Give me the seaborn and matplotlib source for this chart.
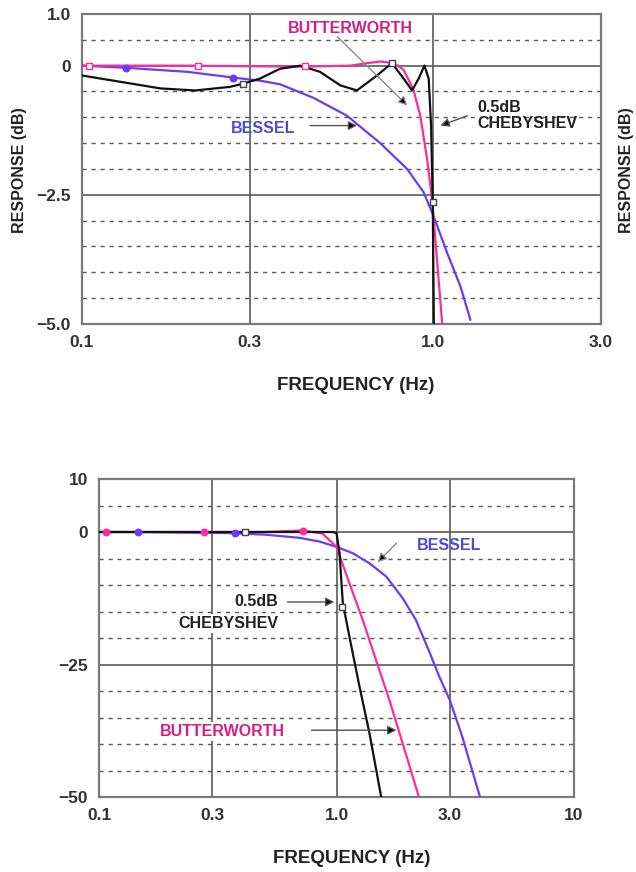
import numpy as np
import pandas as pd
import matplotlib
matplotlib.use("Agg")
import matplotlib.pyplot as plt
import seaborn as sns
from matplotlib.ticker import FixedLocator, FixedFormatter, NullLocator

# ---------------- top panel: passband detail (0.1 .. 3 Hz, +1 .. -5 dB) ----------------
top_bw_f = [0.1, 0.2, 0.418, 0.58, 0.649, 0.706, 0.771, 0.823, 0.877, 0.918, 0.960, 0.992, 1.024, 1.059]
top_bw_db = [0.0, 0.0, -0.02, 0.0, 0.05, 0.08, 0.05, -0.08, -0.46, -0.97, -1.81, -2.59, -3.75, -4.97]

top_ch_f = [0.1, 0.167, 0.21, 0.264, 0.287, 0.321, 0.366, 0.418, 0.476, 0.543, 0.606, 0.691,
            0.762, 0.823, 0.870, 0.908, 0.943, 0.970, 0.985, 0.996, 1.004]
top_ch_db = [-0.19, -0.44, -0.48, -0.41, -0.35, -0.25, -0.06, 0.0, -0.12, -0.38, -0.48, -0.19,
             0.05, -0.25, -0.48, -0.25, 0.0, -0.25, -1.15, -2.63, -5.3]

top_bs_f = [0.1, 0.133, 0.2, 0.269, 0.321, 0.366, 0.455, 0.568, 0.706, 0.842, 0.938, 1.0,
            1.094, 1.194, 1.275]
top_bs_db = [0.0, -0.04, -0.12, -0.23, -0.29, -0.36, -0.62, -0.97, -1.5, -2.0, -2.45, -2.9,
             -3.62, -4.27, -4.92]

# marker points on the top curves
top_bw_mk_f = [0.105, 0.214, 0.432]
top_bw_mk_db = [0.0, 0.0, 0.0]
top_ch_mk_f = [0.287, 0.762, 1.0]
top_ch_mk_db = [-0.35, 0.05, -2.63]
top_bs_mk_f = [0.133, 0.269]
top_bs_mk_db = [-0.04, -0.23]

top_xticks = [0.1, 0.3, 1.0, 3.0]
top_xlabels = ["0.1", "0.3", "1.0", "3.0"]
top_yticks = [1.0, 0.0, -2.5, -5.0]
top_ylabels = ["1.0", "0", "\u22122.5", "\u22125.0"]
top_yminor = [0.5, -0.5, -1.0, -1.5, -2.0, -3.0, -3.5, -4.0, -4.5]

# ---------------- bottom panel: full response (0.1 .. 10 Hz, +10 .. -50 dB) ----------------
bot_bw_f = [0.1, 0.276, 0.5, 0.72, 0.873, 1.0, 1.134, 1.29, 1.468, 1.67, 1.90, 2.24]
bot_bw_db = [0.0, 0.0, 0.0, 0.3, -0.3, -2.8, -9.7, -16.6, -24.2, -31.7, -39.9, -50.5]

bot_ch_f = [0.1, 0.203, 0.41, 0.517, 0.75, 0.962, 1.0, 1.03, 1.063, 1.134, 1.25, 1.377, 1.55]
bot_ch_db = [0.0, 0.0, 0.0, 0.0, 0.0, 0.0, -0.2, -4.0, -13.4, -19.8, -29.2, -38.0, -50.5]

bot_bs_f = [0.1, 0.146, 0.345, 0.5, 0.70, 0.847, 1.0, 1.17, 1.377, 1.62, 1.90, 2.16, 2.46,
            2.71, 3.0, 3.39, 4.05]
bot_bs_db = [0.0, 0.0, -0.2, -0.5, -1.1, -1.8, -2.8, -4.0, -5.9, -8.4, -12.5, -16.6, -22.6,
             -27.3, -31.7, -38.7, -50.5]

bot_bw_mk_f = [0.107, 0.276, 0.72]
bot_bw_mk_db = [0.0, 0.0, 0.2]
bot_ch_mk_f = [0.41, 1.057]
bot_ch_mk_db = [0.0, -14.2]
bot_bs_mk_f = [0.146, 0.373]
bot_bs_mk_db = [0.0, -0.2]

bot_xticks = [0.1, 0.3, 1.0, 3.0, 10.0]
bot_xlabels = ["0.1", "0.3", "1.0", "3.0", "10"]
bot_yticks = [10, 0, -25, -50]
bot_ylabels = ["10", "0", "\u221225", "\u221250"]
bot_yminor = [5, -5, -10, -15, -20, -30, -35, -40, -45]

BW_COL = "#ff2a9e"
BS_COL = "#6a3cf5"
CH_COL = "#111111"
BW_TXT = "#d81e7e"
BS_TXT = "#4b4bd6"
GRID = "#5a5a5a"

sns.set_style("white")
plt.rcParams["font.family"] = ["Liberation Sans", "DejaVu Sans"]

fig = plt.figure(figsize=(6.36, 8.72), dpi=100)
ax1 = fig.add_axes([82 / 636, 1 - 324 / 872, (601 - 82) / 636, (324 - 14) / 872])
ax2 = fig.add_axes([99 / 636, 1 - 797 / 872, (574 - 99) / 636, (797 - 479) / 872])


def style_axes(ax, xlim, ylim, xt, xl, yt, yl, yminor):
    ax.set_xscale("log")
    ax.set_xlim(*xlim)
    ax.set_ylim(*ylim)
    ax.xaxis.set_major_locator(FixedLocator(xt))
    ax.xaxis.set_major_formatter(FixedFormatter(xl))
    ax.xaxis.set_minor_locator(NullLocator())
    ax.yaxis.set_major_locator(FixedLocator(yt))
    ax.yaxis.set_major_formatter(FixedFormatter(yl))
    ax.yaxis.set_minor_locator(FixedLocator(yminor))
    ax.grid(which="major", color=GRID, lw=1.2, ls="-")
    ax.grid(which="minor", axis="y", color=GRID, lw=1.0, ls=(0, (3, 3.5)))
    ax.set_axisbelow(True)
    for s in ax.spines.values():
        s.set_color("#7a7a7a")
        s.set_linewidth(1.6)
    ax.tick_params(which="major", direction="out", length=4, width=1.2, color="#7a7a7a",
                   labelsize=12.5, labelcolor="#333333", pad=4)
    ax.tick_params(which="minor", length=0)
    for lab in ax.get_xticklabels() + ax.get_yticklabels():
        lab.set_fontweight("bold")
    ax.set_xlabel("")
    ax.set_ylabel("")


def draw_curves(ax, curves):
    for f, db, col in curves:
        sns.lineplot(x=f, y=db, ax=ax, color=col, lw=1.6, sort=False, estimator=None, zorder=3)


def draw_markers(ax, pts):
    for f, db, col, mk, face in pts:
        sns.scatterplot(x=f, y=db, ax=ax, marker=mk, s=22, facecolor=face, edgecolor=col,
                        linewidth=1.0, zorder=4)


# ---- top panel ----
draw_curves(ax1, [(top_bs_f, top_bs_db, BS_COL), (top_bw_f, top_bw_db, BW_COL), (top_ch_f, top_ch_db, CH_COL)])
draw_markers(ax1, [(top_bw_mk_f, top_bw_mk_db, BW_COL, "s", "white"),
                   (top_ch_mk_f, top_ch_mk_db, "#444444", "s", "white"),
                   (top_bs_mk_f, top_bs_mk_db, BS_COL, "o", BS_COL)])
style_axes(ax1, (0.1, 3.0), (-5.0, 1.0), top_xticks, top_xlabels, top_yticks, top_ylabels, top_yminor)

arrow_kw = dict(arrowstyle="-|>", mutation_scale=13, lw=1.0, fc="black", ec="#555555", shrinkA=0, shrinkB=0)
ax1.text(0.58, 0.72, "BUTTERWORTH", color=BW_TXT, fontsize=11.5, fontweight="bold", ha="center", va="center")
ax1.annotate("", xy=(0.843, -0.77), xytext=(0.533, 0.56), arrowprops=dict(arrow_kw, ec="#8a8a8a"))
ax1.text(1.33, -0.97, "0.5dB\nCHEBYSHEV", color="#222222", fontsize=11.5, fontweight="semibold",
         ha="left", va="center", linespacing=1.1)
ax1.annotate("", xy=(1.047, -1.16), xytext=(1.25, -0.97), arrowprops=arrow_kw)
ax1.text(0.328, -1.22, "BESSEL", color=BS_TXT, fontsize=11.5, fontweight="bold", ha="center", va="center")
ax1.annotate("", xy=(0.607, -1.16), xytext=(0.446, -1.16), arrowprops=arrow_kw)

# ---- bottom panel ----
draw_curves(ax2, [(bot_bs_f, bot_bs_db, BS_COL), (bot_bw_f, bot_bw_db, BW_COL), (bot_ch_f, bot_ch_db, CH_COL)])
draw_markers(ax2, [(bot_bw_mk_f, bot_bw_mk_db, BW_COL, "o", BW_COL),
                   (bot_ch_mk_f, bot_ch_mk_db, "#444444", "s", "white"),
                   (bot_bs_mk_f, bot_bs_mk_db, BS_COL, "o", BS_COL)])
style_axes(ax2, (0.1, 10.0), (-50, 10), bot_xticks, bot_xlabels, bot_yticks, bot_ylabels, bot_yminor)

box = dict(facecolor="white", edgecolor="none", pad=1.5)
ax2.text(0.57, -13.2, "0.5dB", color="#222222", fontsize=11.5, fontweight="semibold",
         ha="right", va="center", bbox=box, zorder=5)
ax2.text(0.57, -17.3, "CHEBYSHEV", color="#222222", fontsize=11.5, fontweight="semibold",
         ha="right", va="center", bbox=box, zorder=5)
ax2.annotate("", xy=(0.98, -13.2), xytext=(0.622, -13.2), arrowprops=arrow_kw)
ax2.text(2.17, -2.6, "BESSEL", color=BS_TXT, fontsize=11.5, fontweight="bold", ha="left", va="center")
ax2.annotate("", xy=(1.49, -5.7), xytext=(1.79, -2.1), arrowprops=dict(arrow_kw, ec="#8a8a8a"))
ax2.text(0.332, -37.7, "BUTTERWORTH", color=BW_TXT, fontsize=11.5, fontweight="bold",
         ha="center", va="center", bbox=box, zorder=5)
ax2.annotate("", xy=(1.79, -37.4), xytext=(0.785, -37.4), arrowprops=arrow_kw)

# ---- axis titles ----
lab_kw = dict(fontsize=13.5, fontweight="bold", color="#222222", ha="center", va="center")
fig.text(356 / 636, 1 - 385 / 872, "FREQUENCY (Hz)", **lab_kw)
fig.text(352 / 636, 1 - 858 / 872, "FREQUENCY (Hz)", **lab_kw)
fig.text(20 / 636, 1 - 170 / 872, "RESPONSE (dB)", rotation=90, fontsize=11.5, fontweight="bold",
         color="#222222", ha="center", va="center")
fig.text(626 / 636, 1 - 170 / 872, "RESPONSE (dB)", rotation=90, fontsize=11.5, fontweight="bold",
         color="#222222", ha="center", va="center")

fig.savefig("out.png", dpi=100)
